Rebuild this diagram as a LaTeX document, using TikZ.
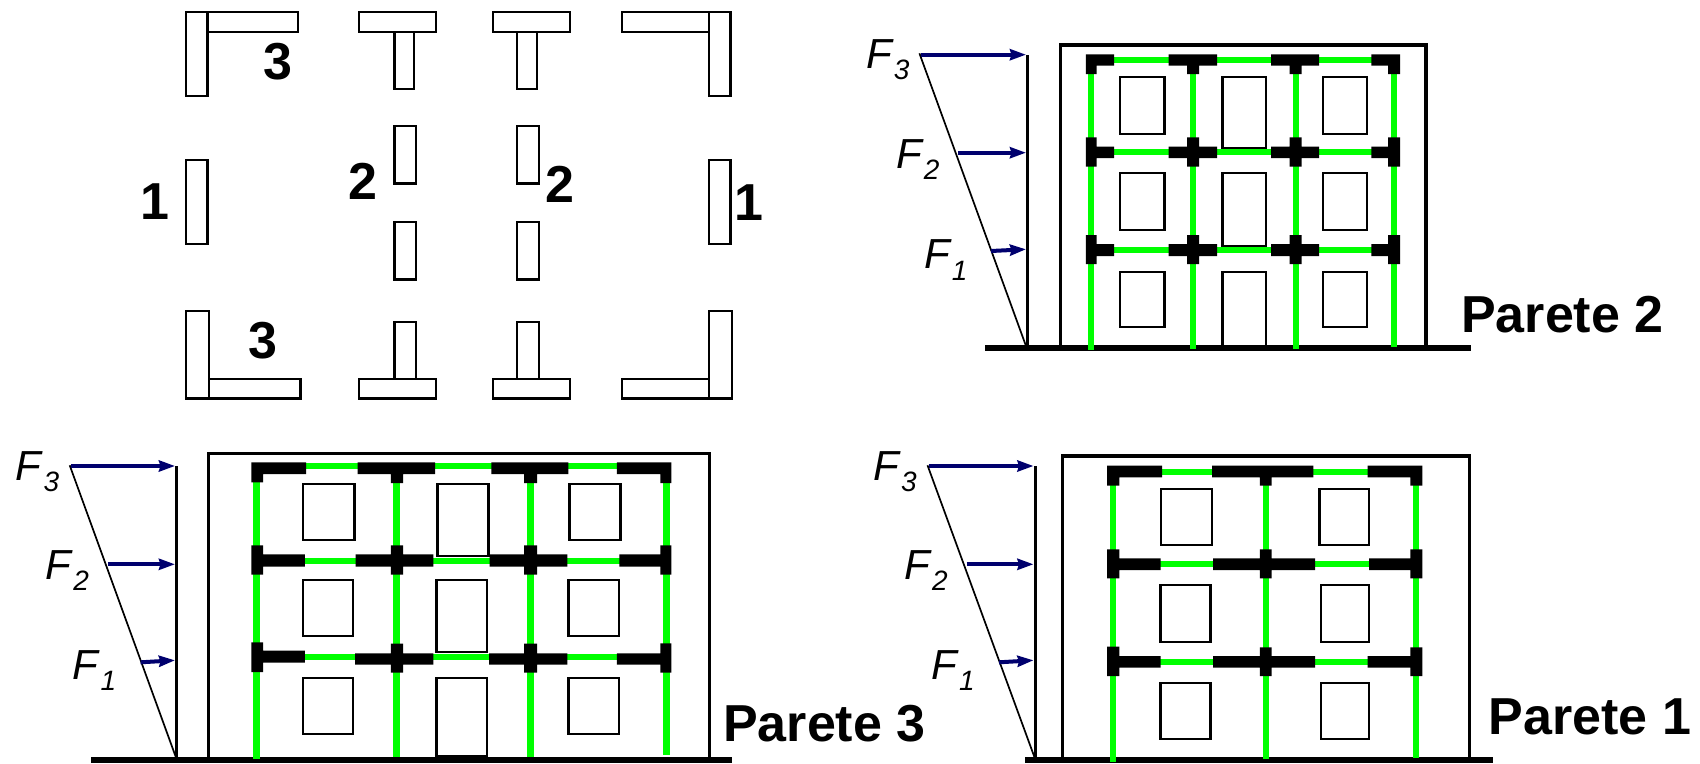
\documentclass[tikz,border=0pt]{standalone}
\usepackage{fontspec}
\setmainfont{Liberation Sans}
\usetikzlibrary{arrows.meta}
\definecolor{forceblue}{RGB}{0,0,110}
\definecolor{framegreen}{RGB}{0,255,0}
\newcommand{\forcename}[1]{\textit{F}\raisebox{-11.5pt}{\fontsize{28}{28}\selectfont\textit{#1}}}
\tikzset{
  plan/.style={draw=black, line width=2.4pt, fill=white},
  column/.style={draw=framegreen, line width=6pt},
  beam/.style={draw=framegreen, line width=6.3pt},
  block/.style={fill=black},
  window/.style={draw=black, line width=2.3pt},
  wall/.style={draw=black, line width=3.5pt},
  ground/.style={draw=black, line width=6pt},
  load/.style={draw=black, line width=1.7pt},
  post/.style={draw=black, line width=3pt},
  force/.style={draw=forceblue, line width=4pt, -{Stealth[length=16pt,width=11pt,inset=1.5pt]}},
  wallnum/.style={inner sep=0pt, font=\fontsize{52}{52}\selectfont\bfseries},
  wallname/.style={inner sep=0pt, anchor=base west, font=\fontsize{52}{52}\selectfont\bfseries},
  forcelabel/.style={inner sep=0pt, anchor=base west, font=\fontsize{42}{42}\selectfont}
}
\begin{document}
\begin{tikzpicture}[x=1pt, y=-1pt]
  \useasboundingbox (0, 0) rectangle (1700, 763);

  % plan of the walls
  \draw [plan] (186, 11.7) rectangle (207.5, 96);
  \draw [plan] (207.5, 11.7) rectangle (298, 31.7);
  \draw [plan] (359, 11.7) rectangle (436, 31.7);
  \draw [plan] (394.5, 31.7) rectangle (414, 89);
  \draw [plan] (493, 11.7) rectangle (570, 31.7);
  \draw [plan] (517, 31.7) rectangle (537, 89);
  \draw [plan] (622, 11.7) rectangle (709, 31.7);
  \draw [plan] (709, 11.7) rectangle (730.4, 96);
  \draw [plan] (186, 159.7) rectangle (207.5, 244);
  \draw [plan] (709, 159.7) rectangle (730.4, 244);
  \draw [plan] (394.5, 125.7) rectangle (416, 183.3);
  \draw [plan] (394.5, 221.7) rectangle (416, 279.3);
  \draw [plan] (517, 125.7) rectangle (539, 183.3);
  \draw [plan] (517, 221.7) rectangle (539, 279.3);
  \draw [plan] (186, 311) rectangle (209, 398.3);
  \draw [plan] (209, 379) rectangle (300.4, 398.3);
  \draw [plan] (394.5, 321.7) rectangle (416, 379);
  \draw [plan] (359, 379) rectangle (436, 398.3);
  \draw [plan] (517, 321.7) rectangle (539, 379);
  \draw [plan] (493, 379) rectangle (570, 398.3);
  \draw [plan] (622, 379) rectangle (709, 398.3);
  \draw [plan] (709, 311) rectangle (732, 398.3);

  \node [wallnum] (numA) at (278, 61.7) {3};
  \node [wallnum] (numB) at (262.7, 340.7) {3};
  \node [wallnum] (numC) at (363, 181.7) {2};
  \node [wallnum] (numD) at (560.4, 184) {2};
  \node [wallnum] (numE) at (155, 201.7) {1};
  \node [wallnum] (numF) at (748.6, 203) {1};

  % Parete 2
  \draw [load] (919.4, 53.3) -- (1026, 346);
  \draw [post] (1027.5, 55) -- (1027.5, 346);
  \draw [force] (920.5, 54.7) -- (1026, 54.7);
  \draw [force] (958.4, 152.7) -- (1026, 152.7);
  \draw [force] (991, 251) -- (1026, 249.3);
  \node [forcelabel] (twoF3) at (866, 68) {\forcename{3}};
  \node [forcelabel] (twoF2) at (896, 168) {\forcename{2}};
  \node [forcelabel] (twoF1) at (924, 268.5) {\forcename{1}};
  \draw [wall] (1060.3, 348) -- (1060.3, 45) -- (1426, 45) -- (1426, 348);
  \draw [window] (1120, 77.3) rectangle (1164.4, 133.7);
  \draw [window] (1222.4, 77.3) rectangle (1266.3, 147.7);
  \draw [window] (1323, 77.3) rectangle (1367, 133.7);
  \draw [window] (1120, 173.3) rectangle (1164.4, 229.7);
  \draw [window] (1222.4, 173.3) rectangle (1266.3, 245.7);
  \draw [window] (1323, 173.3) rectangle (1367, 229.7);
  \draw [window] (1120, 271.7) rectangle (1164.4, 327.3);
  \draw [window] (1222.4, 345) -- (1222.4, 271.7) -- (1266.3, 271.7) -- (1266.3, 345);
  \draw [window] (1323, 271.7) rectangle (1367, 327.3);
  \draw [ground] (985, 348.3) -- (1471, 348.3);
  \draw [column] (1090.6, 60) -- (1090.6, 350);
  \draw [column] (1193, 60) -- (1193, 349);
  \draw [column] (1295.5, 60) -- (1295.5, 349);
  \draw [column] (1394, 60) -- (1394, 347);
  \draw [beam] (1090, 60) -- (1395, 60);
  \draw [beam] (1090, 152.3) -- (1395, 152.3);
  \draw [beam] (1090, 250.3) -- (1395, 250.3);
  \fill [block] (1085.8, 54.3) rectangle (1114, 65.7) (1085.8, 54.3) rectangle (1096.6, 74);
  \fill [block] (1168.7, 54.3) rectangle (1217, 65.7) (1187, 54.3) rectangle (1199, 74);
  \fill [block] (1271, 54.3) rectangle (1319, 65.7) (1289.6, 54.3) rectangle (1301.5, 74);
  \fill [block] (1371.4, 54.3) rectangle (1400, 65.7) (1388, 54.3) rectangle (1400, 74);
  \fill [block] (1085.8, 146.7) rectangle (1114, 158) (1085.8, 137.3) rectangle (1096.6, 166.7);
  \fill [block] (1168.7, 146.7) rectangle (1217, 158) (1187, 137.3) rectangle (1199, 166.7);
  \fill [block] (1271, 146.7) rectangle (1319, 158) (1289.6, 137.3) rectangle (1301.5, 166.7);
  \fill [block] (1371.4, 146.7) rectangle (1400, 158) (1388, 137.3) rectangle (1400, 166.7);
  \fill [block] (1085.8, 244) rectangle (1114, 256) (1085.8, 235) rectangle (1096.6, 264);
  \fill [block] (1168.7, 244) rectangle (1217, 256) (1187, 235) rectangle (1199, 264);
  \fill [block] (1271, 244) rectangle (1319, 256) (1289.6, 235) rectangle (1301.5, 264);
  \fill [block] (1371.4, 244) rectangle (1400, 256) (1388, 235) rectangle (1400, 264);
  \node [wallname] (nameTwo) at (1461, 332.7) {Parete 2};

  % Parete 3
  \draw [load] (69.7, 465.3) -- (175.7, 756.7);
  \draw [post] (176.4, 466) -- (176.4, 757);
  \draw [force] (71, 466) -- (175, 466);
  \draw [force] (107.9, 564.3) -- (175, 564.3);
  \draw [force] (140.6, 662.3) -- (175, 660.3);
  \node [forcelabel] (threeF3) at (15.8, 480) {\forcename{3}};
  \node [forcelabel] (threeF2) at (45.5, 579) {\forcename{2}};
  \node [forcelabel] (threeF1) at (72.7, 679) {\forcename{1}};
  \draw [wall, line width=2.2pt] (208.5, 759) -- (208.5, 453.7) (709.5, 453.7) -- (709.5, 759);
  \draw [post] (207.4, 453.7) -- (710.6, 453.7);
  \draw [window] (303, 483.7) rectangle (354.5, 540);
  \draw [window] (437.5, 483.7) rectangle (488.4, 555.7);
  \draw [window] (569.6, 483.7) rectangle (620.6, 540);
  \draw [window] (303, 580) rectangle (353, 636);
  \draw [window] (436.4, 580) rectangle (486.7, 652);
  \draw [window] (568.5, 580) rectangle (618.8, 636);
  \draw [window] (303, 678) rectangle (353, 734);
  \draw [window] (436.4, 678) rectangle (486.7, 756);
  \draw [window] (568.5, 678) rectangle (618.8, 734);
  \draw [ground] (91, 760) -- (732, 760);
  \draw [column, line width=7pt] (256.3, 466) -- (256.3, 759);
  \draw [column, line width=7pt] (396.5, 466) -- (396.5, 757);
  \draw [column, line width=7pt] (530.1, 466) -- (530.1, 757);
  \draw [column, line width=7pt] (666.5, 466) -- (666.5, 755);
  \draw [beam] (256, 466) -- (667, 466);
  \draw [beam] (256, 560.7) -- (667, 560.7);
  \draw [beam] (256, 656.7) -- (667, 656.7);
  \fill [block] (251.4, 462.3) rectangle (306, 474) (251.4, 462.3) rectangle (263, 482.3);
  \fill [block] (357.5, 462.3) rectangle (435, 474) (390.8, 462.3) rectangle (403, 483);
  \fill [block] (491.4, 462.3) rectangle (568.3, 474) (524, 462.3) rectangle (537, 483);
  \fill [block] (616.8, 462.3) rectangle (671.4, 474) (660.4, 462.3) rectangle (671.4, 483);
  \fill [block] (251.4, 554.3) rectangle (304.8, 566.7) (251.4, 545.3) rectangle (263, 574.7);
  \fill [block] (355.7, 554.3) rectangle (433.3, 566.7) (390.8, 545.3) rectangle (403, 574.7);
  \fill [block] (489.7, 554.3) rectangle (567.3, 566.7) (524, 545.3) rectangle (537, 574.7);
  \fill [block] (619.4, 554.3) rectangle (671.4, 566.7) (660.4, 545.3) rectangle (671.4, 574.7);
  \fill [block] (251.4, 650.7) rectangle (304.8, 662.7) (251.4, 642.3) rectangle (263, 672);
  \fill [block] (355, 653.3) rectangle (433.3, 664.7) (390.8, 643.7) rectangle (403, 672.7);
  \fill [block] (489, 653.3) rectangle (567.3, 664.7) (524, 643.7) rectangle (537, 672.7);
  \fill [block] (616.8, 653.3) rectangle (671.4, 664.7) (660.4, 643.3) rectangle (671.4, 672.7);
  \node [wallname] (nameThree) at (723, 741.7) {Parete 3};

  % Parete 1
  \draw [load] (927.5, 465.3) -- (1034.3, 756.7);
  \draw [post] (1035, 466) -- (1035, 757);
  \draw [force] (928.6, 466) -- (1033.5, 466);
  \draw [force] (966.5, 564.3) -- (1033.5, 564.3);
  \draw [force] (999, 662.3) -- (1033.5, 660.3);
  \node [forcelabel] (oneF3) at (873.3, 480) {\forcename{3}};
  \node [forcelabel] (oneF2) at (904.2, 579) {\forcename{2}};
  \node [forcelabel] (oneF1) at (931.3, 679) {\forcename{1}};
  \draw [wall] (1062.5, 759) -- (1062.5, 456) -- (1469.5, 456) -- (1469.5, 759);
  \draw [window] (1161, 489.3) rectangle (1212, 545);
  \draw [window] (1319.4, 489.3) rectangle (1368.7, 545);
  \draw [window] (1160.5, 585) rectangle (1210.5, 641.7);
  \draw [window] (1321, 585) rectangle (1369, 641.7);
  \draw [window] (1160.5, 683) rectangle (1210.5, 739.3);
  \draw [window] (1321, 683) rectangle (1369, 739.3);
  \draw [ground] (1025, 760) -- (1493, 760);
  \draw [column] (1113.4, 471.7) -- (1113.4, 761.7);
  \draw [column] (1265.7, 471.7) -- (1265.7, 759.3);
  \draw [column] (1416.4, 471.7) -- (1416.4, 758);
  \draw [beam] (1113, 471.7) -- (1417, 471.7);
  \draw [beam] (1113, 564) -- (1417, 564);
  \draw [beam] (1113, 662) -- (1417, 662);
  \fill [block] (1107, 465.7) rectangle (1162.2, 477.3) (1107, 465.7) rectangle (1119.4, 485.7);
  \fill [block] (1212, 465.7) rectangle (1313.4, 477.3) (1259.8, 465.7) rectangle (1271.7, 485.7);
  \fill [block] (1367.6, 465.7) rectangle (1422.4, 477.3) (1410.4, 465.7) rectangle (1422.4, 485.7);
  \fill [block] (1107, 558.3) rectangle (1160.6, 570) (1107, 549.3) rectangle (1119.4, 578.3);
  \fill [block] (1213, 558.3) rectangle (1315, 570) (1259.8, 549.3) rectangle (1271.7, 578.3);
  \fill [block] (1369, 558.3) rectangle (1422.4, 570) (1410.4, 549.3) rectangle (1422.4, 578.3);
  \fill [block] (1107, 656) rectangle (1160.6, 667.7) (1107, 646.7) rectangle (1119.4, 676);
  \fill [block] (1213, 656) rectangle (1315, 667.7) (1259.8, 647.3) rectangle (1271.7, 676);
  \fill [block] (1367.6, 656) rectangle (1422.4, 667.7) (1410.4, 647.3) rectangle (1422.4, 676);
  \node [wallname] (nameOne) at (1488.5, 734) {Parete 1};
\end{tikzpicture}
\end{document}
